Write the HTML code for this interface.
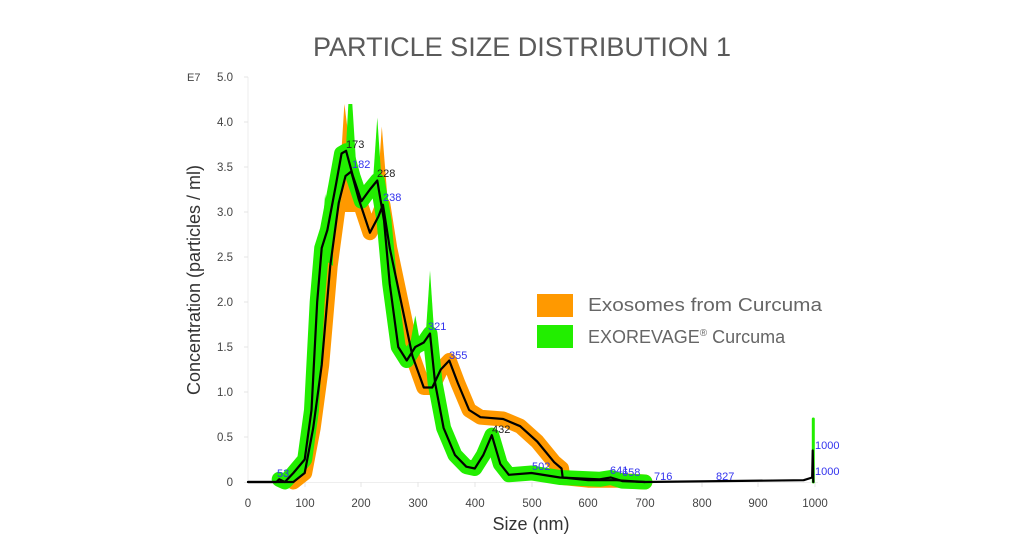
<!DOCTYPE html>
<html><head><meta charset="utf-8"><style>
html,body{margin:0;padding:0;background:#fff;}
svg{display:block;font-family:"Liberation Sans",sans-serif;}
</style></head><body>
<svg width="1024" height="560" viewBox="0 0 1024 560">
<text x="313" y="56" font-size="27" fill="#5a5a5a" textLength="418" lengthAdjust="spacingAndGlyphs">PARTICLE SIZE DISTRIBUTION 1</text>
<!-- axes -->
<line x1="248" y1="77" x2="248" y2="482" stroke="#eee" stroke-width="1"/>
<line x1="244" y1="482.5" x2="818" y2="482.5" stroke="#eee" stroke-width="1"/>
<g stroke="#e4e4e4">
<line x1="244" y1="77" x2="248" y2="77"/><line x1="244" y1="122" x2="248" y2="122"/><line x1="244" y1="167" x2="248" y2="167"/><line x1="244" y1="212" x2="248" y2="212"/><line x1="244" y1="257" x2="248" y2="257"/><line x1="244" y1="302" x2="248" y2="302"/><line x1="244" y1="347" x2="248" y2="347"/><line x1="244" y1="392" x2="248" y2="392"/><line x1="244" y1="437" x2="248" y2="437"/>
<line x1="305" y1="482" x2="305" y2="487"/><line x1="361" y1="482" x2="361" y2="487"/><line x1="418" y1="482" x2="418" y2="487"/><line x1="475" y1="482" x2="475" y2="487"/><line x1="532" y1="482" x2="532" y2="487"/><line x1="588" y1="482" x2="588" y2="487"/><line x1="645" y1="482" x2="645" y2="487"/><line x1="702" y1="482" x2="702" y2="487"/><line x1="758" y1="482" x2="758" y2="487"/><line x1="815" y1="482" x2="815" y2="487"/>
</g>
<g font-size="11.5" fill="#444" text-anchor="end">
<text x="233" y="81">5.0</text><text x="233" y="126">4.0</text><text x="233" y="171">3.5</text><text x="233" y="216">3.0</text><text x="233" y="261">2.5</text><text x="233" y="306">2.0</text><text x="233" y="351">1.5</text><text x="233" y="396">1.0</text><text x="233" y="441">0.5</text><text x="233" y="486">0</text>
</g>
<text x="187" y="81" font-size="11" fill="#444">E7</text>
<g font-size="11.5" fill="#444" text-anchor="middle">
<text x="248" y="507">0</text><text x="305" y="507">100</text><text x="361" y="507">200</text><text x="418" y="507">300</text><text x="475" y="507">400</text><text x="532" y="507">500</text><text x="588" y="507">600</text><text x="645" y="507">700</text><text x="702" y="507">800</text><text x="758" y="507">900</text><text x="815" y="507">1000</text>
</g>
<text x="531" y="530" font-size="18" fill="#333" text-anchor="middle">Size (nm)</text>
<text transform="translate(200,280) rotate(-90)" font-size="18" fill="#333" text-anchor="middle">Concentration (particles / ml)</text>

<g transform="translate(248,482) scale(0.567,-90)" fill="none" stroke-linejoin="round" stroke-linecap="round">
<!-- orange band -->
<polyline vector-effect="non-scaling-stroke" stroke="#ff9900" stroke-width="15" points="80,0 100,0.1 115,0.6 130,1.3 145,2.4 160,3.1 172,3.4 182,3.45 195,3.15 215,2.77 230,2.95 238,3.08 250,2.6 270,2.0 290,1.4 310,1.05 325,1.05 340,1.25 355,1.35 370,1.1 390,0.8 410,0.72 450,0.7 480,0.62 510,0.45 540,0.22 553,0.15 555,0.05 600,0.02 650,0.02 700,0"/>
<polygon fill="#ff9900" points="160,3.2 170,4.2 178,3.8 190,3.0 160,3.0"/>
<polygon fill="#ff9900" points="228,3.2 236,3.95 248,3.0 230,3.0"/>
<!-- green band -->
<polyline vector-effect="non-scaling-stroke" stroke="#22ee00" stroke-width="15" points="55,0.03 65,0 80,0.1 100,0.25 112,0.8 122,2.0 130,2.6 140,2.8 155,3.3 165,3.65 173,3.68 185,3.4 200,3.12 215,3.25 228,3.35 240,2.9 250,2.2 265,1.5 280,1.35 295,1.5 310,1.55 321,1.65 330,1.1 345,0.6 365,0.3 385,0.17 400,0.15 415,0.3 430,0.52 445,0.2 460,0.08 500,0.1 550,0.05 620,0.03 640,0.05 660,0.01 700,0"/>
<polygon fill="#22ee00" points="128,2.5 136,3.2 142,2.9 150,3.2 150,2.4"/>
<polygon fill="#22ee00" points="170,3.4 177,4.2 184,4.2 192,3.4"/>
<polygon fill="#22ee00" points="220,3.3 228,4.05 236,3.3"/>
<polygon fill="#22ee00" points="312,1.5 321,2.35 330,1.5"/>
<polygon fill="#22ee00" points="285,1.5 295,1.85 305,1.5"/>
<line vector-effect="non-scaling-stroke" stroke="#22ee00" stroke-width="3" x1="997" y1="0" x2="997" y2="0.7"/>
<!-- black lines -->
<polyline vector-effect="non-scaling-stroke" stroke="#000" stroke-width="2.2" points="0,0 80,0 100,0.1 115,0.6 130,1.3 145,2.4 160,3.1 172,3.4 182,3.45 195,3.15 215,2.77 230,2.95 238,3.08 250,2.6 270,2.0 290,1.4 310,1.05 325,1.05 340,1.25 355,1.35 370,1.1 390,0.8 410,0.72 450,0.7 480,0.62 510,0.45 540,0.22 553,0.15 555,0.05 600,0.02 650,0.02 700,0 980,0.02 995,0.05 996,0.35 997,0"/>
<polyline vector-effect="non-scaling-stroke" stroke="#000" stroke-width="2.2" points="0,0 50,0 55,0.03 65,0 80,0.1 100,0.25 112,0.8 122,2.0 130,2.6 140,2.8 155,3.3 165,3.65 173,3.68 185,3.4 200,3.12 215,3.25 228,3.35 240,2.9 250,2.2 265,1.5 280,1.35 295,1.5 310,1.55 321,1.65 330,1.1 345,0.6 365,0.3 385,0.17 400,0.15 415,0.3 430,0.52 445,0.2 460,0.08 500,0.1 550,0.05 620,0.03 640,0.05 660,0.01 700,0"/>
</g>
<g font-size="11" fill="#3333ee">
<text x="277" y="477">53</text><text x="352" y="168">182</text><text x="383" y="201">238</text><text x="428" y="330">321</text><text x="449" y="359">355</text><text x="532" y="470">502</text><text x="610" y="474">641</text><text x="622" y="476">658</text><text x="654" y="480">716</text><text x="716" y="480">827</text><text x="815" y="449">1000</text><text x="815" y="475">1000</text>
</g>
<g font-size="11" fill="#222">
<text x="346" y="148">173</text><text x="377" y="177">228</text><text x="492" y="433">432</text>
</g>
<rect x="537" y="294" width="36" height="23" fill="#ff9900"/>
<rect x="537" y="325" width="36" height="23" fill="#22ee00"/>
<text x="588" y="311" font-size="18" fill="#666" textLength="234" lengthAdjust="spacingAndGlyphs">Exosomes from Curcuma</text>
<text x="588" y="343" font-size="18" fill="#666">EXOREVAGE<tspan font-size="10" dy="-7">®</tspan><tspan dy="7"> Curcuma</tspan></text>
</svg>
</body></html>
